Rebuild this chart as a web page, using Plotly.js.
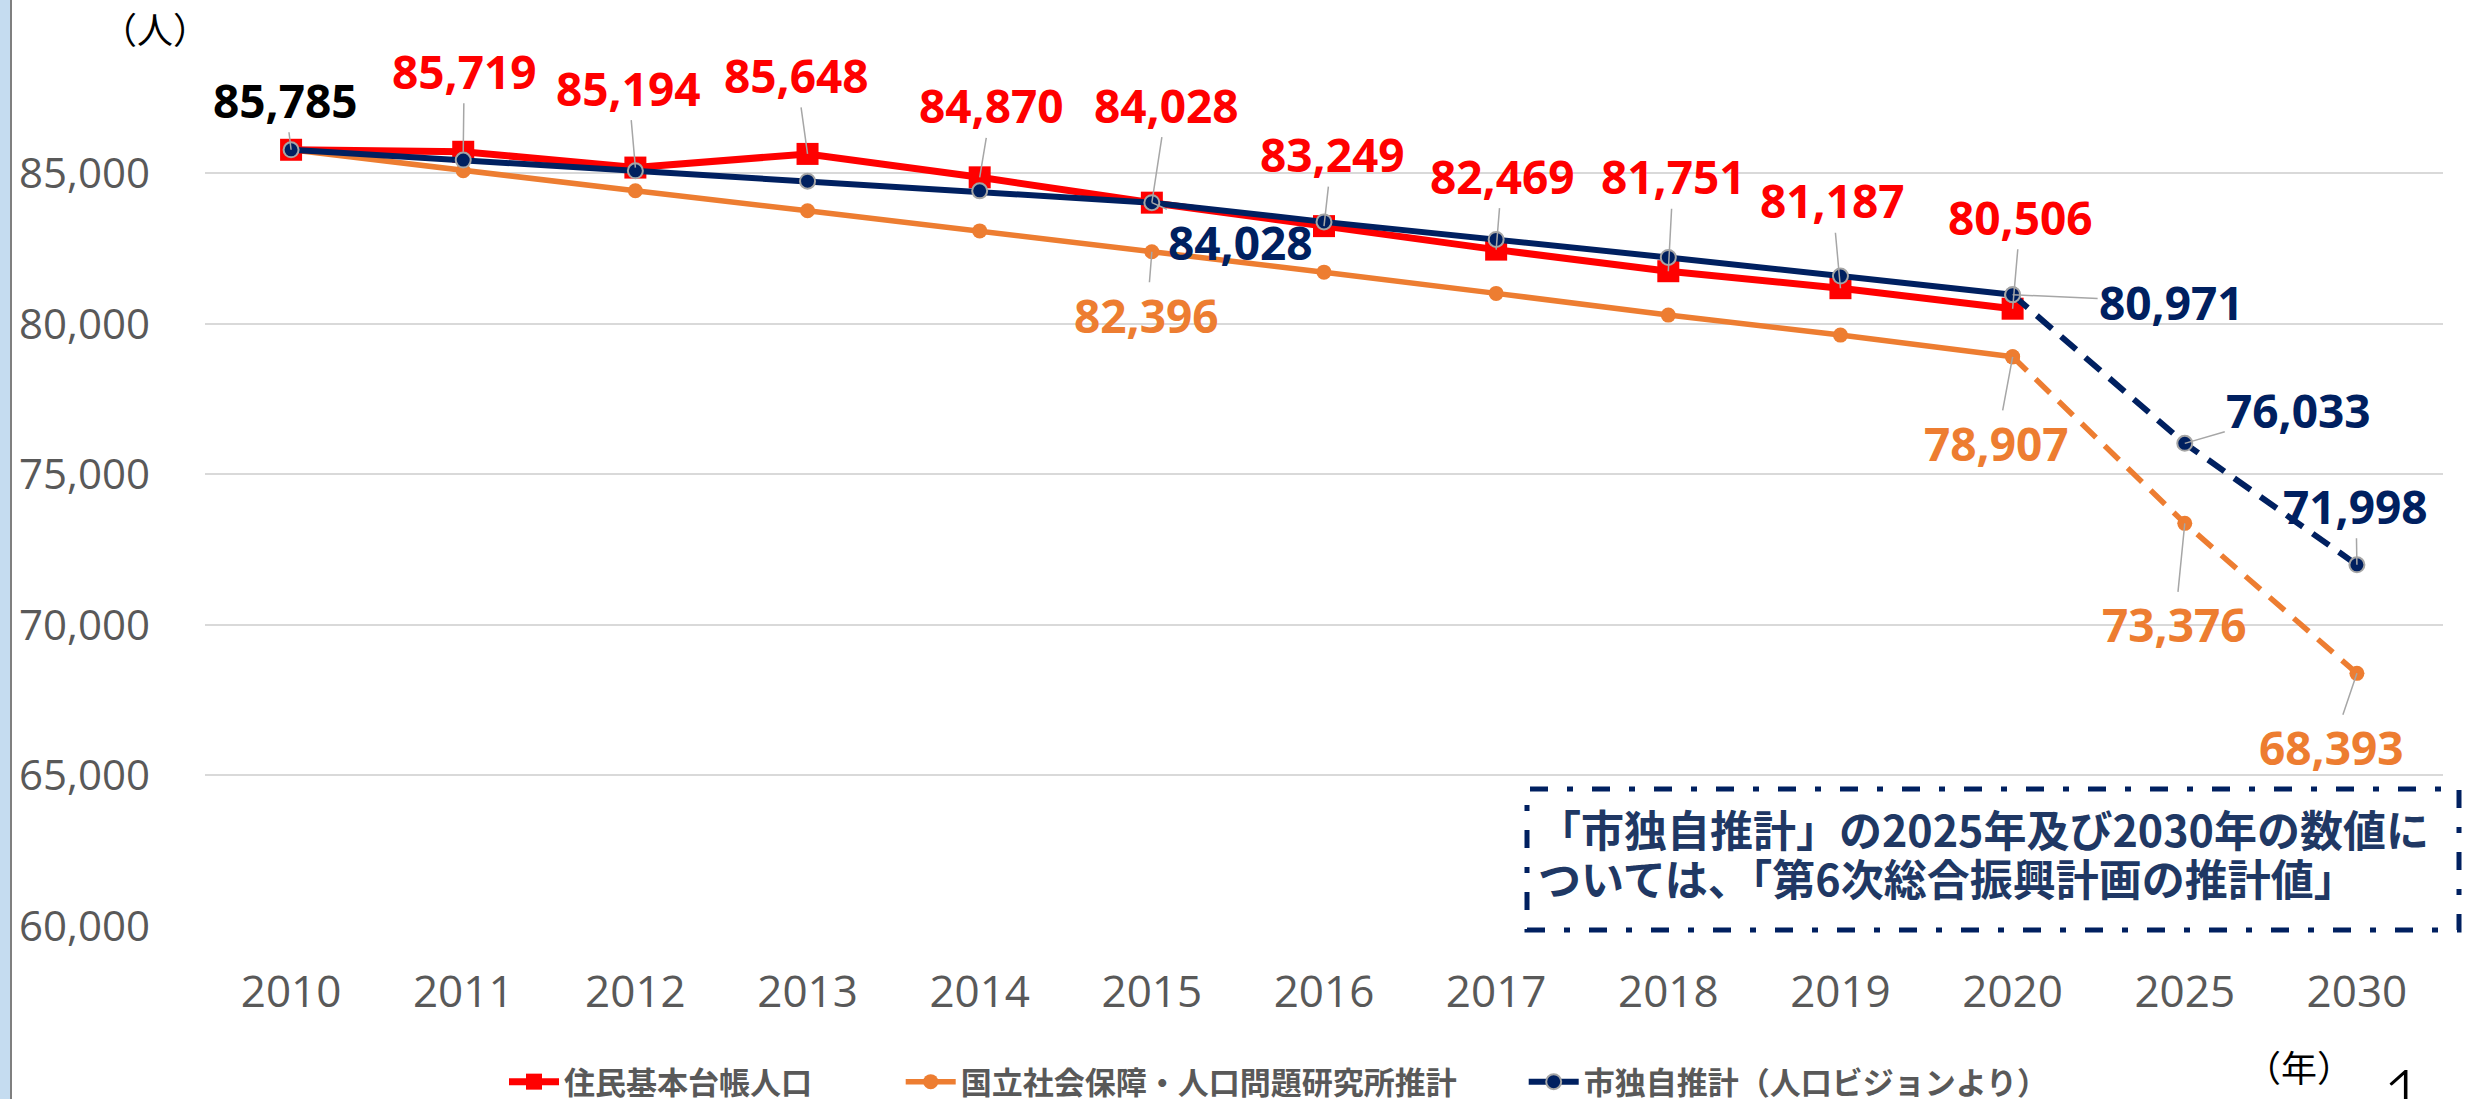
<!DOCTYPE html>
<html>
<head>
<meta charset="utf-8">
<script src="https://cdn.plot.ly/plotly-3.0.1.min.js"></script>
<style>
html,body{margin:0;padding:0;background:#fff;}
#chart{width:2466px;height:1099px;}
</style>
</head>
<body>
<div id="chart"></div>
<script>
// ---- data ----
const years = ['2010','2011','2012','2013','2014','2015','2016','2017','2018','2019','2020','2025','2030'];
const actualYears = years.slice(0, 11);
const projYears = ['2020','2025','2030'];

const residentPop = [85785, 85719, 85194, 85648, 84870, 84028, 83249, 82469, 81751, 81187, 80506];
const ipssPop = [85785, 85087, 84422, 83759, 83090, 82396, 81720, 81015, 80294, 79629, 78907];
const ipssProj = [78907, 73376, 68393];
const cityPop = [85785, 85442, 85087, 84743, 84420, 84028, 83390, 82808, 82210, 81589, 80971];
const cityProj = [80971, 76033, 71998];

const seriesNames = ['住民基本台帳人口', '国立社会保障・人口問題研究所推計', '市独自推計（人口ビジョンより）'];
const yTicks = [60000, 65000, 70000, 75000, 80000, 85000];

// label specs: [category, value, text, color, ax, ay]
const RED = '#FF0000', ORANGE = '#ED7D31', NAVY = '#002060';
const labels = [
  ['2010', residentPop[0], '85,785', '#000000', -6, -50],
  ['2011', residentPop[1], '85,719', RED, 1, -81],
  ['2012', residentPop[2], '85,194', RED, -7, -80],
  ['2013', residentPop[3], '85,648', RED, -11, -79],
  ['2014', residentPop[4], '84,870', RED, 12, -72],
  ['2015', residentPop[5], '84,028', RED, 15, -98],
  ['2016', residentPop[6], '83,249', RED, 8, -72],
  ['2017', residentPop[7], '82,469', RED, 6, -74],
  ['2018', residentPop[8], '81,751', RED, 5, -95],
  ['2019', residentPop[9], '81,187', RED, -8, -88],
  ['2020', residentPop[10], '80,506', RED, 8, -92],
  ['2015', cityPop[5], '84,028', NAVY, 89, 39],
  ['2020', cityProj[0], '80,971', NAVY, 159, 7],
  ['2025', cityProj[1], '76,033', NAVY, 114, -33],
  ['2030', cityProj[2], '71,998', NAVY, -1, -59],
  ['2015', ipssPop[5], '82,396', ORANGE, -5, 63],
  ['2020', ipssProj[0], '78,907', ORANGE, -16, 86],
  ['2025', ipssProj[1], '73,376', ORANGE, -10, 101],
  ['2030', ipssProj[2], '68,393', ORANGE, -25, 74]
];

const noteLines = ['「市独自推計」の2025年及び2030年の数値に', 'ついては、「第6次総合振興計画の推計値」'];

// ---- layout geometry (pixels) ----
const W = 2466, H = 1099;
const L = 205, R = 2443, T = 53, B = 926;
const PW = R - L, PH = B - T;
const px = v => (v - L) / PW;
const py = v => (B - v) / PH;
const PAD_RED = '\u3000\u3000\u2002\u2009';
const PAD_ORANGE = '\u3000\u3000';

const traces = [
  {
    x: actualYears, y: ipssPop, name: seriesNames[1] + PAD_ORANGE, type: 'scatter', mode: 'lines+markers',
    line: {color: ORANGE, width: 5.5}, marker: {symbol: 'circle', size: 15, color: ORANGE},
    legendrank: 2, hoverinfo: 'skip'
  },
  {
    x: projYears, y: ipssProj, name: seriesNames[1], type: 'scatter', mode: 'lines+markers',
    line: {color: ORANGE, width: 5.5, dash: '20px,12px'}, marker: {symbol: 'circle', size: 15, color: ORANGE},
    showlegend: false, hoverinfo: 'skip'
  },
  {
    x: actualYears, y: residentPop, name: seriesNames[0] + PAD_RED, type: 'scatter', mode: 'lines+markers',
    line: {color: RED, width: 7}, marker: {symbol: 'square', size: 22, color: RED},
    legendrank: 1, hoverinfo: 'skip'
  },
  {
    x: actualYears, y: cityPop, name: seriesNames[2], type: 'scatter', mode: 'lines+markers',
    line: {color: NAVY, width: 6}, marker: {symbol: 'circle', size: 15, color: NAVY, line: {color: '#A5A5A5', width: 2}},
    legendrank: 3, hoverinfo: 'skip'
  },
  {
    x: projYears, y: cityProj, name: seriesNames[2], type: 'scatter', mode: 'lines+markers',
    line: {color: NAVY, width: 6, dash: '20px,12px'}, marker: {symbol: 'circle', size: 15, color: NAVY, line: {color: '#A5A5A5', width: 2}},
    showlegend: false, hoverinfo: 'skip'
  }
];

const annotations = labels.map(l => ({
  x: years.indexOf(l[0]), y: l[1], xref: 'x', yref: 'y', text: l[2],
  showarrow: true, arrowhead: 0, arrowwidth: 1.5, arrowcolor: '#A6A6A6',
  ax: l[4], ay: l[5], standoff: 0,
  font: {family: 'Open Sans', size: 46, color: l[3], weight: 700}
}));

annotations.push(
  {xref: 'paper', yref: 'paper', x: px(155), y: py(28), text: '（人）', showarrow: false,
   xanchor: 'center', yanchor: 'middle', font: {family: 'Noto Sans CJK JP', size: 36, color: '#000'}},
  {xref: 'paper', yref: 'paper', x: px(2299), y: py(1066), text: '（年）', showarrow: false,
   xanchor: 'center', yanchor: 'middle', font: {family: 'Noto Sans CJK JP', size: 36, color: '#000'}},
  {xref: 'paper', yref: 'paper', x: px(2403), y: py(1094), text: '1', showarrow: false,
   xanchor: 'center', yanchor: 'middle', font: {family: 'Lato', size: 74, color: '#000', weight: 300}},
  {xref: 'paper', yref: 'paper', x: px(1536), y: py(828), text: noteLines[0], showarrow: false,
   xanchor: 'left', yanchor: 'middle', font: {family: 'Noto Sans CJK JP', size: 43, color: '#203864', weight: 700}},
  {xref: 'paper', yref: 'paper', x: px(1536), y: py(877), text: noteLines[1], showarrow: false,
   xanchor: 'left', yanchor: 'middle', font: {family: 'Noto Sans CJK JP', size: 43, color: '#203864', weight: 700}}
);

const shapes = [
  {type: 'rect', xref: 'paper', yref: 'paper', x0: px(0), x1: px(10), y0: py(H), y1: py(0),
   fillcolor: '#C5DCF0', line: {width: 0}, layer: 'below'},
  {type: 'line', xref: 'paper', yref: 'paper', x0: px(11), x1: px(11), y0: py(H), y1: py(0),
   line: {color: '#7F7F7F', width: 2}},
  {type: 'rect', xref: 'paper', yref: 'paper', x0: px(1527), x1: px(2459), y0: py(930), y1: py(789),
   line: {color: NAVY, width: 5, dash: '18px,19px,6px,19px'}, fillcolor: 'rgba(0,0,0,0)'}
];

const layout = {
  width: W, height: H,
  margin: {l: L, r: W - R, t: T, b: H - B, autoexpand: false},
  paper_bgcolor: '#FFFFFF', plot_bgcolor: '#FFFFFF',
  showlegend: true,
  legend: {
    orientation: 'h', x: px(504), y: py(1082), xanchor: 'left', yanchor: 'middle',
    font: {family: 'Noto Sans CJK JP', size: 31, color: '#595959', weight: 700},
    itemwidth: 50, bgcolor: 'rgba(0,0,0,0)', tracegroupgap: 0
  },
  xaxis: {
    type: 'category', categoryorder: 'array', categoryarray: years,
    range: [-0.5, 12.5], showgrid: false, zeroline: false, showline: false,
    ticks: '', ticklabelstandoff: 36,
    tickfont: {family: 'Open Sans', size: 44, color: '#595959'}, fixedrange: true
  },
  yaxis: {
    range: [60000, 89000], tickvals: yTicks, tickformat: ',d',
    showgrid: true, gridcolor: '#D9D9D9', gridwidth: 2, zeroline: false, showline: false,
    ticks: '', ticklabelstandoff: 54,
    tickfont: {family: 'Open Sans', size: 42, color: '#595959'}, fixedrange: true
  },
  annotations: annotations,
  shapes: shapes
};

Plotly.newPlot('chart', traces, layout, {displayModeBar: false, staticPlot: true});
</script>
</body>
</html>
